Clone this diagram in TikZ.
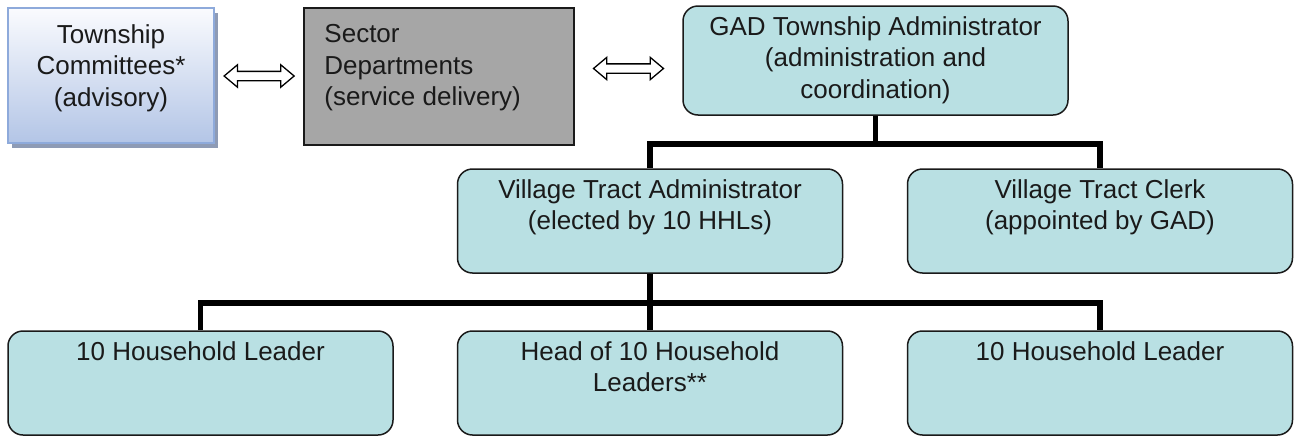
\documentclass[tikz,border=0pt]{standalone}
\usepackage{fontspec}
\setmainfont{Liberation Sans}
\usepackage{xcolor}
\definecolor{tealfill}{HTML}{B9E0E3}
\definecolor{boxline}{HTML}{1A1A1A}
\definecolor{sectorgray}{HTML}{A6A6A6}
\definecolor{cmtop}{HTML}{FAFBFE}
\definecolor{cmbottom}{HTML}{B3C5E6}
\definecolor{cmline}{HTML}{8EAADB}
\definecolor{cmshadow}{HTML}{8E9BB5}
\usetikzlibrary{shapes.arrows,positioning,calc,shadows}

\begin{document}
\begin{tikzpicture}[x=1pt,y=-1pt,
    font=\fontsize{26}{31.5}\selectfont,
    tealbox/.style={draw=boxline,line width=1.5pt,fill=tealfill,rounded corners=15pt,
      minimum width=385pt,minimum height=104pt,inner sep=0pt},
    boxtext/.style={inner sep=0pt,align=center,text=boxline},
    linkbar/.style={draw=black,line width=5.5pt},
    dblarrow/.style={double arrow,draw=black,fill=white,line width=1.3pt,
      minimum height=70pt,inner sep=0pt,inner ysep=4pt,double arrow head extend=6.5pt,
      double arrow tip angle=80}]
  \useasboundingbox (0,0) rectangle (1296,437);

  % top row
  \node[draw=cmline,line width=2pt,top color=cmtop,bottom color=cmbottom,
    minimum width=206pt,minimum height=135pt,inner sep=0pt,
    drop shadow={shadow xshift=4pt,shadow yshift=-5pt,fill=cmshadow,opacity=1}]
    (tc) at (111,75.5) {};
  \node[boxtext,below=17pt of tc.north] (tc-t) {Township\\Committees*\\(advisory)};

  \node[draw=boxline,line width=1.5pt,fill=sectorgray,minimum width=270pt,
    minimum height=137pt,inner sep=0pt] (sd) at (439,76.5) {};
  \node[boxtext,align=left,anchor=north west] (sd-t) at ($(sd.north west)+(21,17)$)
    {Sector\\Departments\\(service delivery)};

  \node[tealbox,minimum height=109pt] (gad) at (875.5,60.5) {};
  \node[boxtext,below=11pt of gad.north] (gad-t)
    {GAD Township Administrator\\(administration and\\coordination)};

  \node[dblarrow] (ar1) at ($(tc.east)!.5!(sd.west)$) {};
  \node[dblarrow] (ar2) at ($(sd.east)!.5!(gad.west)$) {};

  % village tract
  \node[tealbox] (vta) at (650,221) {};
  \node[boxtext,below=11pt of vta.north] (vta-t)
    {Village Tract Administrator\\(elected by 10 HHLs)};
  \node[tealbox] (vtc) at (1100,221) {};
  \node[boxtext,below=11pt of vtc.north] (vtc-t)
    {Village Tract Clerk\\(appointed by GAD)};

  % household leaders
  \node[tealbox] (hl1) at (200.5,383) {};
  \node[boxtext,below=11pt of hl1.north] (hl1-t) {10 Household Leader};
  \node[tealbox] (head) at (650,383) {};
  \node[boxtext,below=11pt of head.north] (head-t) {Head of 10 Household\\Leaders**};
  \node[tealbox] (hl2) at (1100,383) {};
  \node[boxtext,below=11pt of hl2.north] (hl2-t) {10 Household Leader};

  % links
  \coordinate (bus1) at (gad.south |- 0,144);
  \coordinate (bus2) at (vta.south |- 0,303);
  \draw[linkbar] (gad.south) -- (bus1);
  \draw[linkbar] (vta.north) |- (bus1) -| (vtc.north);
  \draw[linkbar] (vta.south) -- (head.north);
  \draw[linkbar] (hl1.north) |- (bus2) -| (hl2.north);
\end{tikzpicture}
\end{document}
